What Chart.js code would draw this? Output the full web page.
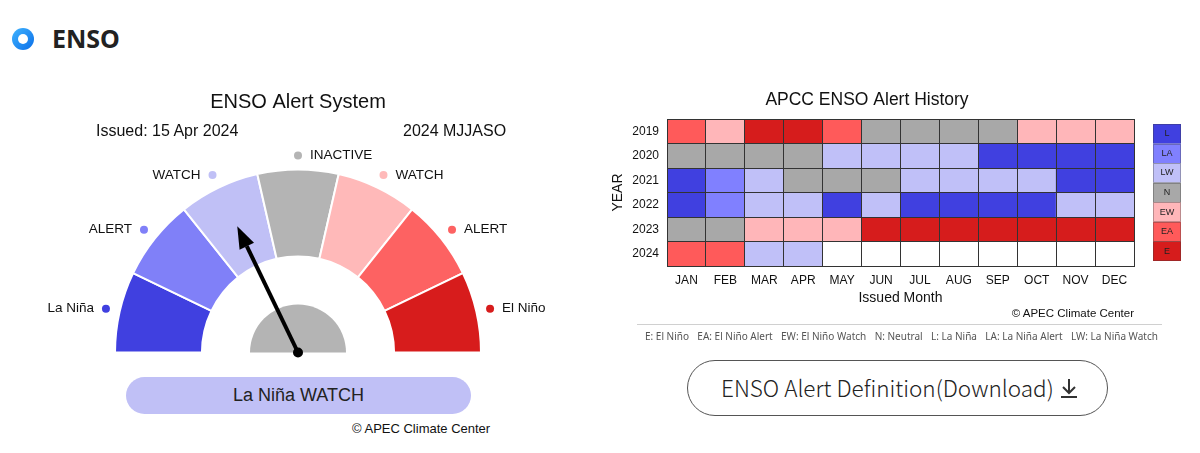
<!DOCTYPE html>
<html>
<head>
<meta charset="utf-8">
<script src="https://cdn.jsdelivr.net/npm/chart.js@4.4.1/dist/chart.umd.min.js"></script>
<style>
  html, body { margin: 0; padding: 0; background: #fff; }
  body { width: 1200px; height: 453px; position: relative; overflow: hidden; font-family: "Liberation Sans", Arial, sans-serif; color: #111; }
  .abs { position: absolute; white-space: nowrap; }
  #icon { left: 12px; top: 28px; width: 22px; height: 22px; border-radius: 50%; background: linear-gradient(135deg, #40b4ff, #0a6ee8); }
  #icon::after { content: ""; position: absolute; left: 6px; top: 6px; width: 10px; height: 10px; border-radius: 50%; background: #fff; }
  #head { left: 52px; top: 23px; font: 700 25px/30px "Noto Sans", sans-serif; color: #222; }
  #gauge { left: 0; top: 80px; }
  #history { left: 600px; top: 80px; }
  .info { top: 121px; font-size: 16px; line-height: 20px; }
  #pill { left: 126px; top: 377px; width: 345px; height: 37px; border-radius: 19px; background: #c0c0f6; text-align: center; font-size: 18px; line-height: 37px; color: #222; }
  #copy1 { left: 352px; top: 421px; font-size: 13px; line-height: 16px; }
  #copy2 { right: 66px; top: 306px; font-size: 11.5px; line-height: 14px; }
  #rule { left: 637px; top: 324px; width: 525px; height: 1px; background: #d0d0d0; }
  #codes { left: 645px; top: 330px; width: 513px; display: flex; justify-content: space-between; font: 10px/13px "Noto Sans", sans-serif; color: #555; }
  #btn { left: 687px; top: 360px; width: 419px; height: 54px; border: 1px solid #555; border-radius: 28px; }
  #btnText { left: 721px; top: 372px; font: 300 22.5px/30px "Noto Sans CJK KR", "Noto Sans", sans-serif; color: #222; }
  #dl { left: 1059px; top: 377px; }
</style>
</head>
<body>
<div class="abs" id="icon"></div>
<div class="abs" id="head">ENSO</div>

<canvas class="abs" id="gauge" width="596" height="300"></canvas>
<div class="abs info" style="left:96px">Issued: 15 Apr 2024</div>
<div class="abs info" style="left:403px">2024 MJJASO</div>
<div class="abs" id="pill">La Niña WATCH</div>
<div class="abs" id="copy1">© APEC Climate Center</div>

<canvas class="abs" id="history" width="600" height="250"></canvas>
<div class="abs" id="copy2">© APEC Climate Center</div>
<div class="abs" id="rule"></div>
<div class="abs" id="codes">
  <span>E: El Niño</span><span>EA: El Niño Alert</span><span>EW: El Niño Watch</span><span>N: Neutral</span><span>L: La Niña</span><span>LA: La Niña Alert</span><span>LW: La Niña Watch</span>
</div>
<div class="abs" id="btn"></div>
<div class="abs" id="btnText">ENSO Alert Definition(Download)</div>
<svg class="abs" id="dl" width="20" height="22" viewBox="0 0 20 22">
  <path d="M10 2 V15 M4 10 L10 16 L16 10 M2 20 H18" stroke="#333" stroke-width="2" fill="none"/>
</svg>

<script>
// === GAUGE DATA ===
const gaugeLabels = ["La Niña", "ALERT", "WATCH", "INACTIVE", "WATCH", "ALERT", "El Niño"];
const gaugeColors = ["#4040e0", "#8080f8", "#c0c0f6", "#b4b4b4", "#ffb9b9", "#fd6262", "#d71c1c"];
const currentStage = 2; // La Niña WATCH

// === HISTORY DATA ===
const months = ["JAN", "FEB", "MAR", "APR", "MAY", "JUN", "JUL", "AUG", "SEP", "OCT", "NOV", "DEC"];
const years = ["2019", "2020", "2021", "2022", "2023", "2024"];
const alertCodes = ["L", "LA", "LW", "N", "EW", "EA", "E"];
const alertColors = ["#4040e0", "#8080ff", "#c0c0f8", "#a8a8a8", "#ffb6b9", "#ff5a5a", "#d61c1c"];
const alerts2019 = ["EA", "EW", "E", "E", "EA", "N", "N", "N", "N", "EW", "EW", "EW"];
const alerts2020 = ["N", "N", "N", "N", "LW", "LW", "LW", "LW", "L", "L", "L", "L"];
const alerts2021 = ["L", "LA", "LW", "N", "N", "N", "LW", "LW", "LW", "LW", "L", "L"];
const alerts2022 = ["L", "LA", "LW", "LW", "L", "LW", "L", "L", "L", "L", "LW", "LW"];
const alerts2023 = ["N", "N", "EW", "EW", "EW", "E", "E", "E", "E", "E", "E", "E"];
const alerts2024 = ["EA", "EA", "LW", "LW", "", "", "", "", "", "", "", ""];
const alertRows = [alerts2019, alerts2020, alerts2021, alerts2022, alerts2023, alerts2024];

const FONT = "'Liberation Sans', Arial, sans-serif";
const colorOf = code => code ? alertColors[alertCodes.indexOf(code)] : "#ffffff";

// === GAUGE: labels, half disk, needle ===
const gaugePlugin = {
  id: "gaugeExtras",
  afterDatasetsDraw(chart) {
    const ctx = chart.ctx;
    const arcs = chart.getDatasetMeta(0).data;
    const cx = arcs[0].x, cy = arcs[0].y;
    ctx.save();

    // dots + labels
    ctx.font = "13.5px " + FONT;
    ctx.textBaseline = "middle";
    arcs.forEach((arc, i) => {
      const a = (arc.startAngle + arc.endAngle) / 2;
      const dx = cx + 197 * Math.cos(a), dy = cy + 197 * Math.sin(a);
      ctx.fillStyle = gaugeColors[i];
      ctx.beginPath();
      ctx.arc(dx, dy, 4, 0, Math.PI * 2);
      ctx.fill();
      ctx.fillStyle = "#111";
      if (i < 3) {
        ctx.textAlign = "right";
        ctx.fillText(gaugeLabels[i], dx - 12, dy);
      } else {
        ctx.textAlign = "left";
        ctx.fillText(gaugeLabels[i], dx + 12, dy);
      }
    });

    // gray half disk
    ctx.fillStyle = "#b4b4b4";
    ctx.beginPath();
    ctx.arc(cx, cy, 48, Math.PI, Math.PI * 2);
    ctx.closePath();
    ctx.fill();

    // needle
    const cur = arcs[currentStage];
    const ang = (cur.startAngle + cur.endAngle) / 2;
    const len = 140, head = 22, hw = 8;
    const ux = Math.cos(ang), uy = Math.sin(ang);
    const tipX = cx + len * ux, tipY = cy + len * uy;
    const baseX = cx + (len - head) * ux, baseY = cy + (len - head) * uy;
    ctx.strokeStyle = "#000";
    ctx.lineWidth = 4;
    ctx.beginPath();
    ctx.moveTo(cx, cy);
    ctx.lineTo(baseX, baseY);
    ctx.stroke();
    ctx.fillStyle = "#000";
    ctx.beginPath();
    ctx.moveTo(tipX, tipY);
    ctx.lineTo(baseX - hw * uy, baseY + hw * ux);
    ctx.lineTo(baseX + hw * uy, baseY - hw * ux);
    ctx.closePath();
    ctx.fill();
    ctx.beginPath();
    ctx.arc(cx, cy, 5, 0, Math.PI * 2);
    ctx.fill();
    ctx.restore();
  }
};

new Chart(document.getElementById("gauge"), {
  type: "doughnut",
  data: {
    labels: gaugeLabels,
    datasets: [{
      data: gaugeLabels.map(() => 1),
      backgroundColor: gaugeColors,
      borderColor: "#ffffff",
      borderWidth: 2
    }]
  },
  options: {
    responsive: false,
    animation: false,
    rotation: -90,
    circumference: 180,
    radius: 183,
    cutout: "52.5%",
    layout: { padding: { top: 0, bottom: 28, left: 100, right: 100 } },
    plugins: {
      legend: { display: false },
      tooltip: { enabled: false },
      title: {
        display: true,
        text: "ENSO Alert System",
        color: "#111",
        font: { family: FONT, size: 20, weight: "normal" },
        padding: { top: 10, bottom: 56 }
      }
    }
  },
  plugins: [gaugePlugin]
});

// === HISTORY: colour bar on the right ===
const colorbarPlugin = {
  id: "colorbar",
  afterDraw(chart) {
    const { ctx, chartArea: a } = chart;
    const x = a.right + 19, w = 28, top = a.top + 5;
    const h = (a.bottom - a.top - 10) / alertCodes.length;
    ctx.save();
    ctx.font = "9px " + FONT;
    ctx.textAlign = "center";
    ctx.textBaseline = "middle";
    alertCodes.forEach((c, i) => {
      ctx.fillStyle = alertColors[i];
      ctx.fillRect(x, top + i * h, w, h);
      ctx.strokeStyle = "rgba(60,60,60,0.35)";
      ctx.lineWidth = 1;
      ctx.strokeRect(Math.round(x) + 0.5, Math.round(top + i * h) + 0.5, w - 1, Math.round(h) - 1);
      ctx.fillStyle = "#222";
      ctx.fillText(c, x + w / 2, top + i * h + h / 2);
    });
    ctx.restore();
  }
};

const frameColor = "#333";
new Chart(document.getElementById("history"), {
  type: "bar",
  data: {
    labels: months,
    datasets: years.map((yr, i) => ({
      label: yr,
      data: months.map(() => 1),
      backgroundColor: alertRows[i].map(colorOf),
      borderWidth: 0,
      barPercentage: 1,
      categoryPercentage: 1,
      yAxisID: "y"
    }))
  },
  options: {
    responsive: false,
    animation: false,
    layout: { padding: { left: 0, right: 66, top: 0, bottom: 19 } },
    plugins: {
      legend: { display: false },
      tooltip: { enabled: false },
      title: {
        display: true,
        text: "APCC ENSO Alert History",
        color: "#111",
        font: { family: FONT, size: 17.5, weight: "normal" },
        padding: { top: 9.5, bottom: 8.5 }
      }
    },
    scales: {
      x: {
        stacked: true,
        offset: true,
        grid: { offset: true, color: frameColor, drawTicks: false, z: 1 },
        border: { color: frameColor, z: 1 },
        ticks: { color: "#111", padding: 7, font: { family: FONT, size: 12 } },
        title: { display: true, text: "Issued Month", color: "#111", font: { family: FONT, size: 14 }, padding: { top: 0, bottom: 4 } },
        afterFit: axis => { axis.height = 45; }
      },
      y: { stacked: true, display: false, min: 0, max: years.length, reverse: true },
      yr: {
        type: "category",
        labels: years,
        position: "left",
        offset: true,
        grid: { offset: true, color: frameColor, drawTicks: false, z: 1 },
        border: { color: frameColor, z: 1 },
        ticks: { color: "#111", padding: 8, font: { family: FONT, size: 12 } },
        title: { display: true, text: "YEAR", color: "#111", font: { family: FONT, size: 14 }, padding: { top: 10, bottom: 0 } },
        afterFit: axis => { axis.width = 67; }
      }
    }
  },
  plugins: [colorbarPlugin]
});
</script>
</body>
</html>
